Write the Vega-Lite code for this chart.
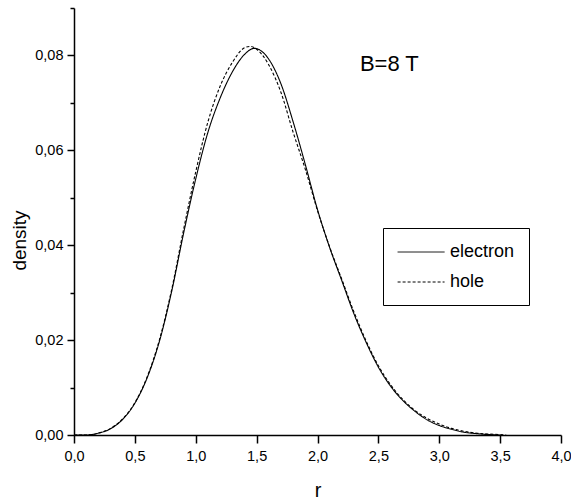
{
  "$schema": "https://vega.github.io/schema/vega-lite/v6.json",
  "autosize": {"type": "none"},
  "width": 487,
  "height": 427,
  "padding": {"left": 74, "top": 8, "right": 10, "bottom": 67},
  "background": "white",
  "config": {
    "view": {"stroke": null},
    "font": "Liberation Sans",
    "axis": {
      "domainColor": "black",
      "domainWidth": 1.5,
      "tickColor": "black",
      "tickWidth": 1.5,
      "grid": false,
      "labelFont": "Liberation Sans",
      "labelFontSize": 14.5,
      "labelColor": "black",
      "titleFont": "Liberation Sans",
      "titleFontWeight": "normal",
      "titleColor": "black"
    }
  },
  "datasets": {
    "curves": [
      {"r": 0.0, "density": 0.0, "carrier": "electron"},
      {"r": 0.1, "density": 0.0, "carrier": "electron"},
      {"r": 0.15, "density": 0.0001, "carrier": "electron"},
      {"r": 0.2, "density": 0.0004, "carrier": "electron"},
      {"r": 0.3, "density": 0.0013, "carrier": "electron"},
      {"r": 0.4, "density": 0.0033, "carrier": "electron"},
      {"r": 0.5, "density": 0.0067, "carrier": "electron"},
      {"r": 0.6, "density": 0.012, "carrier": "electron"},
      {"r": 0.7, "density": 0.0196, "carrier": "electron"},
      {"r": 0.8, "density": 0.03, "carrier": "electron"},
      {"r": 0.9, "density": 0.0425, "carrier": "electron"},
      {"r": 1.0, "density": 0.054, "carrier": "electron"},
      {"r": 1.1, "density": 0.0638, "carrier": "electron"},
      {"r": 1.2, "density": 0.071, "carrier": "electron"},
      {"r": 1.3, "density": 0.0765, "carrier": "electron"},
      {"r": 1.4, "density": 0.0802, "carrier": "electron"},
      {"r": 1.48, "density": 0.0815, "carrier": "electron"},
      {"r": 1.6, "density": 0.0792, "carrier": "electron"},
      {"r": 1.7, "density": 0.074, "carrier": "electron"},
      {"r": 1.8, "density": 0.066, "carrier": "electron"},
      {"r": 1.9, "density": 0.057, "carrier": "electron"},
      {"r": 2.0, "density": 0.0475, "carrier": "electron"},
      {"r": 2.1, "density": 0.0395, "carrier": "electron"},
      {"r": 2.2, "density": 0.0325, "carrier": "electron"},
      {"r": 2.3, "density": 0.0255, "carrier": "electron"},
      {"r": 2.4, "density": 0.0195, "carrier": "electron"},
      {"r": 2.5, "density": 0.0143, "carrier": "electron"},
      {"r": 2.6, "density": 0.0103, "carrier": "electron"},
      {"r": 2.7, "density": 0.0073, "carrier": "electron"},
      {"r": 2.8, "density": 0.005, "carrier": "electron"},
      {"r": 2.9, "density": 0.0032, "carrier": "electron"},
      {"r": 3.0, "density": 0.002, "carrier": "electron"},
      {"r": 3.1, "density": 0.0012, "carrier": "electron"},
      {"r": 3.2, "density": 0.0006, "carrier": "electron"},
      {"r": 3.3, "density": 0.0003, "carrier": "electron"},
      {"r": 3.4, "density": 0.0001, "carrier": "electron"},
      {"r": 3.5, "density": 0.0, "carrier": "electron"},
      {"r": 0.0, "density": 0.0, "carrier": "hole"},
      {"r": 0.1, "density": 0.0, "carrier": "hole"},
      {"r": 0.15, "density": 0.0001, "carrier": "hole"},
      {"r": 0.2, "density": 0.0004, "carrier": "hole"},
      {"r": 0.3, "density": 0.0014, "carrier": "hole"},
      {"r": 0.4, "density": 0.0034, "carrier": "hole"},
      {"r": 0.5, "density": 0.0068, "carrier": "hole"},
      {"r": 0.6, "density": 0.0122, "carrier": "hole"},
      {"r": 0.7, "density": 0.0199, "carrier": "hole"},
      {"r": 0.8, "density": 0.0304, "carrier": "hole"},
      {"r": 0.9, "density": 0.0433, "carrier": "hole"},
      {"r": 1.0, "density": 0.0555, "carrier": "hole"},
      {"r": 1.1, "density": 0.066, "carrier": "hole"},
      {"r": 1.2, "density": 0.0735, "carrier": "hole"},
      {"r": 1.3, "density": 0.0785, "carrier": "hole"},
      {"r": 1.4, "density": 0.0816, "carrier": "hole"},
      {"r": 1.45, "density": 0.0819, "carrier": "hole"},
      {"r": 1.5, "density": 0.0813, "carrier": "hole"},
      {"r": 1.6, "density": 0.078, "carrier": "hole"},
      {"r": 1.7, "density": 0.0722, "carrier": "hole"},
      {"r": 1.8, "density": 0.0638, "carrier": "hole"},
      {"r": 1.9, "density": 0.056, "carrier": "hole"},
      {"r": 2.0, "density": 0.0473, "carrier": "hole"},
      {"r": 2.1, "density": 0.0396, "carrier": "hole"},
      {"r": 2.2, "density": 0.0328, "carrier": "hole"},
      {"r": 2.3, "density": 0.0259, "carrier": "hole"},
      {"r": 2.4, "density": 0.0198, "carrier": "hole"},
      {"r": 2.5, "density": 0.0146, "carrier": "hole"},
      {"r": 2.6, "density": 0.0106, "carrier": "hole"},
      {"r": 2.7, "density": 0.0075, "carrier": "hole"},
      {"r": 2.8, "density": 0.0052, "carrier": "hole"},
      {"r": 2.9, "density": 0.0035, "carrier": "hole"},
      {"r": 3.0, "density": 0.0023, "carrier": "hole"},
      {"r": 3.1, "density": 0.0014, "carrier": "hole"},
      {"r": 3.2, "density": 0.0008, "carrier": "hole"},
      {"r": 3.3, "density": 0.0004, "carrier": "hole"},
      {"r": 3.4, "density": 0.0002, "carrier": "hole"},
      {"r": 3.5, "density": 0.0001, "carrier": "hole"},
      {"r": 3.55, "density": 0.0, "carrier": "hole"}
    ],
    "note": [
      {"r": 2.59, "density": 0.0768, "label": "B=8 T"}
    ]
  },
  "layer": [
    {
      "data": {"name": "curves"},
      "mark": {"type": "line", "color": "black", "strokeWidth": 1.1, "interpolate": "monotone"},
      "encoding": {
        "x": {
          "field": "r",
          "type": "quantitative",
          "scale": {"domain": [0, 4], "nice": false, "zero": false},
          "axis": {
            "title": "r",
            "titleFontSize": 20,
            "titleY": 61,
            "titleBaseline": "alphabetic",
            "values": [0, 0.25, 0.5, 0.75, 1, 1.25, 1.5, 1.75, 2, 2.25, 2.5, 2.75, 3, 3.25, 3.5, 3.75, 4],
            "labelExpr": "round(datum.value * 4) % 2 == 0 ? replace(format(datum.value, '.1f'), '.', ',') : ''",
            "tickSize": {"condition": {"test": "round(datum.value * 4) % 2 == 0", "value": 8}, "value": 5},
            "labelPadding": 6,
            "labelFlush": false,
            "labelOverlap": false
          }
        },
        "y": {
          "field": "density",
          "type": "quantitative",
          "scale": {"domain": [0, 0.09], "nice": false},
          "axis": {
            "title": "density",
            "titleFontSize": 19,
            "titleAngle": 270,
            "titleX": -49,
            "titleY": 232,
            "titleAlign": "center",
            "titleBaseline": "alphabetic",
            "values": [0, 0.01, 0.02, 0.03, 0.04, 0.05, 0.06, 0.07, 0.08, 0.09],
            "labelExpr": "round(datum.value * 100) % 2 == 0 ? replace(format(datum.value, '.2f'), '.', ',') : ''",
            "tickSize": {"condition": {"test": "round(datum.value * 100) % 2 == 0", "value": 7}, "value": 4},
            "labelPadding": 4,
            "labelFlush": false,
            "labelOverlap": false
          }
        },
        "strokeDash": {
          "field": "carrier",
          "type": "nominal",
          "scale": {"domain": ["electron", "hole"], "range": [[1, 0], [3, 2]]},
          "legend": {
            "title": null,
            "orient": "none",
            "legendX": 309,
            "legendY": 220,
            "padding": 14,
            "strokeColor": "black",
            "fillColor": "white",
            "symbolType": "M-1,0H4",
            "symbolSize": 353,
            "symbolFillColor": "transparent",
            "symbolStrokeColor": "black",
            "symbolStrokeWidth": 1,
            "labelFont": "Liberation Sans",
            "labelFontSize": 18,
            "labelColor": "black",
            "labelOffset": 33,
            "rowPadding": 11
          }
        }
      }
    },
    {
      "data": {"name": "note"},
      "mark": {"type": "text", "font": "Liberation Sans", "fontSize": 22, "color": "black", "align": "center", "baseline": "alphabetic"},
      "encoding": {
        "x": {"field": "r", "type": "quantitative"},
        "y": {"field": "density", "type": "quantitative"},
        "text": {"field": "label"}
      }
    }
  ]
}
